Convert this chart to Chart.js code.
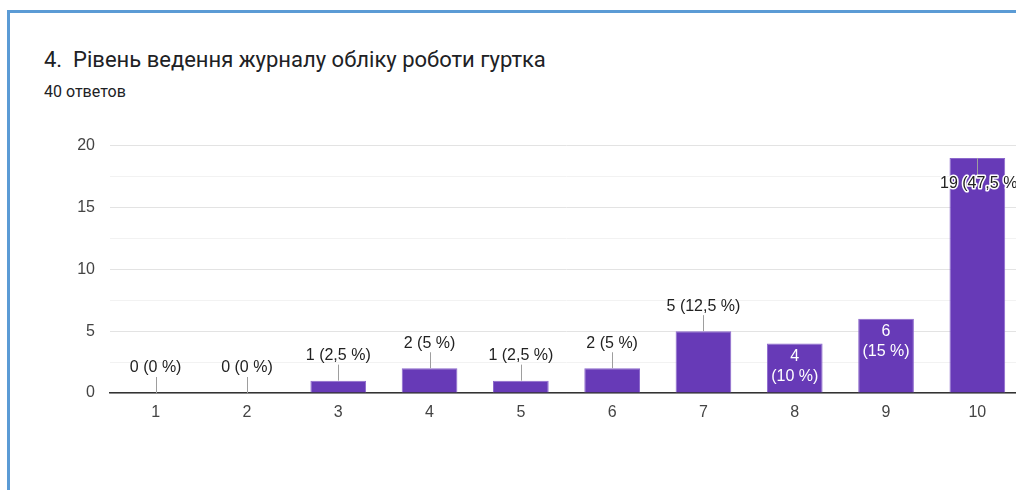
<!DOCTYPE html>
<html>
<head>
<meta charset="utf-8">
<script src="https://cdn.jsdelivr.net/npm/chart.js@4"></script>
<style>
    html, body { margin: 0; padding: 0; width: 1016px; height: 490px; overflow: hidden; background: #fff; font-family: Roboto, Arial, sans-serif; }
    .frame { position: absolute; left: 7px; top: 10px; width: 1030px; height: 500px; border-left: 3px solid #5b9bd5; border-top: 3px solid #5b9bd5; }
    .title { position: absolute; left: 44px; top: 47px; font-size: 22px; color: #202124; white-space: pre; }
    .sub { position: absolute; left: 44px; top: 82px; font-size: 16px; color: #202124; }
    .chart-box { position: absolute; left: 0; top: 121px; width: 1024px; height: 309px; }
</style>
</head>
<body>
<div class="frame"></div>
<div class="title">4.  Рівень ведення журналу обліку роботи гуртка</div>
<div class="sub">40 ответов</div>
<div class="chart-box"><canvas id="barChart"></canvas></div>
<script>
// answers per score
const categories = ['1', '2', '3', '4', '5', '6', '7', '8', '9', '10'];
const counts = [0, 0, 1, 2, 1, 2, 5, 4, 6, 19];
const totalAnswers = 40;
const yTicks = [0, 5, 10, 15, 20];

// bars whose label sits inside the bar (white text)
const insideLabels = [7, 8];

const chartFont = '"Liberation Sans", Arial, sans-serif';

function pctText(v) {
    const p = v / totalAnswers * 100;
    return String(Math.round(p * 10) / 10).replace('.', ',');
}

const barLabels = {
    id: 'barLabels',
    afterDatasetsDraw(chart) {
        const ctx = chart.ctx;
        const meta = chart.getDatasetMeta(0);
        ctx.save();
        ctx.font = '16px ' + chartFont;
        ctx.textAlign = 'center';
        ctx.textBaseline = 'middle';
        meta.data.forEach((bar, i) => {
            const v = counts[i];
            const x = bar.x;
            const top = bar.y;
            const text = `${v} (${pctText(v)} %)`;
            if (insideLabels.includes(i)) {
                ctx.fillStyle = '#ffffff';
                ctx.fillText(String(v), x, top + 13);
                ctx.fillText(`(${pctText(v)} %)`, x, top + 33);
                return;
            }
            ctx.strokeStyle = '#9e9e9e';
            ctx.lineWidth = 1;
            if (v > 15) {
                // tall bar: label inside with a halo
                ctx.beginPath();
                ctx.moveTo(Math.round(x) + 0.5, top);
                ctx.lineTo(Math.round(x) + 0.5, top + 17);
                ctx.stroke();
                ctx.lineJoin = 'round';
                ctx.strokeStyle = '#ffffff';
                ctx.lineWidth = 3;
                ctx.strokeText(text, x + 4, top + 26);
                ctx.fillStyle = '#222';
                ctx.fillText(text, x + 4, top + 26);
                return;
            }
            ctx.beginPath();
            ctx.moveTo(Math.round(x) + 0.5, top);
            ctx.lineTo(Math.round(x) + 0.5, top - 16);
            ctx.stroke();
            ctx.fillStyle = '#222';
            ctx.fillText(text, x, top - 25);
        });
        ctx.restore();
    }
};

new Chart(document.getElementById('barChart').getContext('2d'), {
    type: 'bar',
    data: {
        labels: categories,
        datasets: [{
            data: counts,
            backgroundColor: '#673ab7',
            borderColor: '#8c68cc',
            borderWidth: 1,
            barPercentage: 0.61,
            categoryPercentage: 1
        }]
    },
    options: {
        responsive: true,
        maintainAspectRatio: false,
        animation: false,
        layout: { padding: { top: 5, right: 1, left: 0, bottom: 0 } },
        plugins: { legend: { display: false }, tooltip: { enabled: false } },
        scales: {
            x: {
                grid: { display: false, drawTicks: false },
                border: { color: '#333', width: 1.5 },
                ticks: { color: '#444', padding: 10, font: { size: 16, family: chartFont } },
                afterFit: (s) => { s.height = 37; }
            },
            y: {
                min: 0,
                max: 20,
                grid: {
                    drawTicks: false,
                    color: (c) => yTicks.includes(c.tick.value) ? '#e3e3e3' : '#f2f2f2'
                },
                border: { display: false },
                ticks: {
                    stepSize: 2.5,
                    padding: 15,
                    color: '#444',
                    font: { size: 16, family: chartFont },
                    callback: (v) => yTicks.includes(v) ? String(v) : ''
                },
                afterFit: (s) => { s.width = 110; }
            }
        }
    },
    plugins: [barLabels]
});
</script>
</body>
</html>
